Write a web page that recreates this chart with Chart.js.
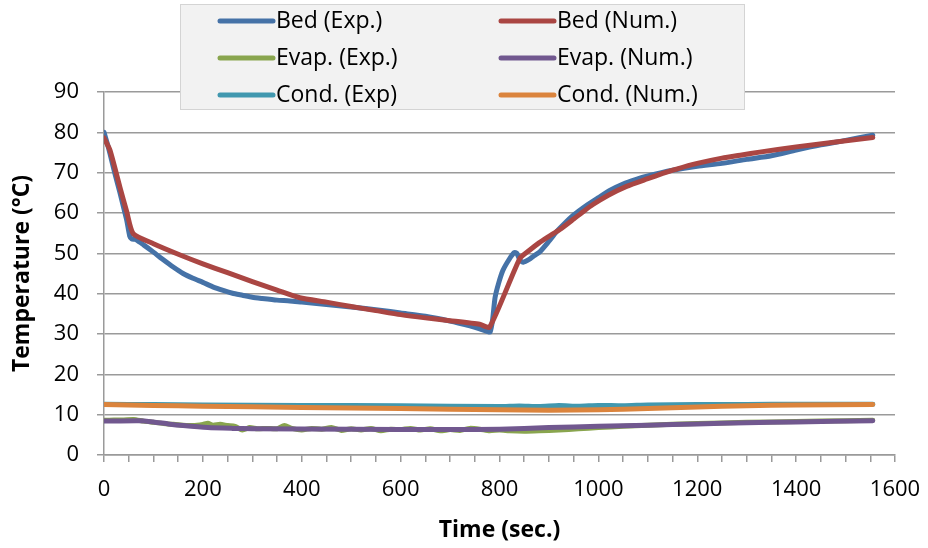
<!DOCTYPE html>
<html>
<head>
<meta charset="utf-8">
<title>Bed / Evap / Cond temperatures</title>
<script src="https://cdn.jsdelivr.net/npm/chart.js@4/dist/chart.umd.min.js"></script>
<style>
  html, body { margin: 0; padding: 0; background: #fff; }
  #wrap { width: 928px; height: 548px; }
</style>
</head>
<body>
<div id="wrap"><canvas id="tempChart" width="928" height="548"></canvas></div>
<script>
// series labels and colours (legend order)
var seriesNames = ['Bed (Exp.)', 'Bed (Num.)', 'Evap. (Exp.)', 'Evap. (Num.)', 'Cond. (Exp)', 'Cond. (Num.)'];
var seriesColors = ['#4572A7', '#AA4643', '#89A54E', '#71588F', '#4198AF', '#DB843D'];

// axis ticks
var xTickLabels = [0, 200, 400, 600, 800, 1000, 1200, 1400, 1600];
var yTickLabels = [0, 10, 20, 30, 40, 50, 60, 70, 80, 90];

// Bed (Exp.)
var bedExpTime = [0, 6, 12, 22, 32, 40, 46, 52, 56, 64, 80, 100, 120, 140, 160, 180, 200, 220, 241, 260, 280, 300, 320, 350, 376,
                  400, 450, 500, 558, 600, 650, 700, 740, 760, 776, 781,
                  786, 791, 798, 807, 820, 830, 835, 842, 848, 860, 870, 881, 900, 915, 930, 950, 975, 1000, 1023, 1050, 1075,
                  1100, 1150, 1200, 1250, 1300, 1350, 1400, 1450, 1500, 1555];
var bedExpTemp = [80, 77.5, 74.8, 69.8, 65.2, 61.2, 58.2, 54.3, 53.6, 53.4, 52.1, 50.3, 48.4, 46.6, 45, 43.8, 42.8, 41.7, 40.8, 40.1, 39.6, 39.1, 38.8, 38.4, 38.2,
                  37.9, 37.3, 36.7, 35.9, 35.2, 34.4, 33.2, 32, 31.3, 30.6, 30.5,
                  33.5, 39, 42.5, 45.8, 48.6, 50.2, 50, 48.2, 47.8, 48.5, 49.4, 50.3, 53, 55.3, 57.2, 59.5, 61.8, 63.8, 65.6, 67.2, 68.3,
                  69.2, 70.6, 71.6, 72.3, 73.3, 74.2, 75.6, 76.9, 78, 79.3];

// Bed (Num.)
var bedNumTime = [0, 12, 32, 46, 59, 100, 154, 200, 250, 300, 350, 396, 450, 500, 550, 600, 650, 700, 760, 780,
                  841, 860, 880, 900, 922, 950, 970, 989, 1020, 1057, 1100, 1130, 1158, 1200, 1250, 1290, 1326, 1400, 1480, 1555];
var bedNumTemp = [78.6, 75.6, 66.5, 60.3, 54.9, 52.4, 49.6, 47.4, 45.2, 43, 40.9, 39, 37.9, 36.8, 35.8, 34.8, 34, 33.3, 32.4, 31.7,
                  48.7, 50.7, 52.6, 54.2, 55.9, 58.5, 60.4, 62.1, 64.4, 66.6, 68.5, 69.8, 70.9, 72.3, 73.6, 74.4, 75.1, 76.4, 77.6, 78.7];

// Evap. (Exp.)
var evapExpTime = [0, 20, 40, 60, 80, 100, 120, 140, 160, 180, 200, 210, 220, 235, 250, 265, 280, 295, 310, 330, 350, 365, 380, 400,
                   420, 440, 460, 480, 500, 520, 540, 560, 580, 600, 620, 640, 660, 680, 700, 720, 740, 760, 780, 800, 820, 850,
                   880, 920, 960, 1000, 1050, 1100, 1200, 1300, 1400, 1500, 1555];
var evapExpTemp = [8.6, 8.7, 8.7, 8.8, 8.4, 8.1, 7.8, 7.6, 7.4, 7.3, 7.6, 7.9, 7.4, 7.6, 7.3, 7.1, 6.2, 6.8, 6.5, 6.6, 6.5, 7.3, 6.6, 6.2,
                   6.6, 6.4, 6.8, 6.1, 6.5, 6.2, 6.6, 6.0, 6.4, 6.3, 6.6, 6.2, 6.5, 6.0, 6.3, 6.1, 6.6, 6.4, 6.0, 6.2, 6.0, 5.9,
                   6.0, 6.2, 6.5, 6.8, 7.1, 7.4, 7.8, 8.1, 8.3, 8.5, 8.6];

// Evap. (Num.)
var evapNumTime = [0, 70, 100, 130, 160, 210, 260, 300, 500, 700, 800, 900, 1000, 1100, 1200, 1300, 1400, 1555];
var evapNumTemp = [8.4, 8.5, 8.2, 7.7, 7.3, 6.8, 6.6, 6.5, 6.4, 6.3, 6.4, 6.8, 7.1, 7.4, 7.7, 8.0, 8.2, 8.5];

// Cond. (Exp)
var condExpTime = [0, 100, 200, 400, 600, 800, 840, 880, 920, 960, 1000, 1050, 1100, 1200, 1300, 1400, 1555];
var condExpTemp = [12.6, 12.5, 12.4, 12.3, 12.2, 12.0, 12.15, 12.0, 12.25, 12.1, 12.3, 12.2, 12.4, 12.5, 12.55, 12.6, 12.6];

// Cond. (Num.)
var condNumTime = [0, 100, 200, 400, 600, 800, 900, 1000, 1100, 1200, 1300, 1400, 1555];
var condNumTemp = [12.5, 12.3, 12.1, 11.8, 11.5, 11.2, 11.1, 11.2, 11.5, 11.9, 12.2, 12.4, 12.5];

var seriesTimes = [bedExpTime, bedNumTime, evapExpTime, evapNumTime, condExpTime, condNumTime];
var seriesTemps = [bedExpTemp, bedNumTemp, evapExpTemp, evapNumTemp, condExpTemp, condNumTemp];

function toPoints(times, temps) {
    var pts = [];
    for (var i = 0; i < times.length; i++) {
        pts.push({ x: times[i], y: temps[i] });
    }
    return pts;
}

var datasets = seriesNames.map(function (name, i) {
    return {
        label: name,
        data: toPoints(seriesTimes[i], seriesTemps[i]),
        borderColor: seriesColors[i],
        backgroundColor: seriesColors[i],
        borderWidth: 5,
        pointRadius: 0,
        tension: 0.2,
        borderCapStyle: 'round',
        borderJoinStyle: 'round',
        order: seriesNames.length - i   // later series drawn on top, like Excel
    };
});

var FONT = "'Open Sans', 'Liberation Sans', sans-serif";
var GRID = '#9a9a9a';

// boxed two-column legend sitting over the top of the plot
var boxLegend = {
    id: 'boxLegend',
    afterDraw: function (chart) {
        var ctx = chart.ctx;
        var box = { x: 180, y: 4, w: 565, h: 106 };
        var cols = [220, 501];
        var rows = [21, 58, 95];
        ctx.save();
        ctx.fillStyle = '#f2f2f2';
        ctx.strokeStyle = '#d4d4d4';
        ctx.lineWidth = 1;
        ctx.fillRect(box.x, box.y, box.w, box.h);
        ctx.strokeRect(box.x + 0.5, box.y + 0.5, box.w - 1, box.h - 1);
        ctx.font = '23px ' + FONT;
        ctx.textBaseline = 'middle';
        ctx.textAlign = 'left';
        chart.data.datasets.forEach(function (ds, i) {
            var cx = cols[i % 2];
            var cy = rows[Math.floor(i / 2)];
            ctx.strokeStyle = ds.borderColor;
            ctx.lineWidth = 5;
            ctx.lineCap = 'round';
            ctx.beginPath();
            ctx.moveTo(cx, cy);
            ctx.lineTo(cx + 53, cy);
            ctx.stroke();
            ctx.fillStyle = '#000';
            ctx.fillText(ds.label, cx + 56, cy);
        });
        ctx.restore();
    }
};

var ctx = document.getElementById('tempChart').getContext('2d');
var tempChart = new Chart(ctx, {
    type: 'line',
    data: { datasets: datasets },
    options: {
        responsive: false,
        animation: false,
        devicePixelRatio: 1,
        layout: { padding: { top: 92, right: 33, left: 0, bottom: 0 } },
        plugins: {
            legend: { display: false },
            tooltip: { enabled: false }
        },
        scales: {
            x: {
                type: 'linear',
                min: xTickLabels[0],
                max: xTickLabels[xTickLabels.length - 1],
                afterFit: function (scale) {
                    scale.height = 93;
                    scale.paddingLeft = 0;
                    scale.paddingRight = 0;
                },
                border: { color: GRID, width: 1.5 },
                grid: { drawOnChartArea: false, color: GRID, lineWidth: 1.5, tickLength: 7 },
                ticks: {
                    stepSize: 50,
                    autoSkip: false,
                    maxRotation: 0,
                    padding: 15,
                    color: '#000',
                    font: { family: FONT, size: 22 },
                    callback: function (v) { return xTickLabels.indexOf(v) >= 0 ? String(v) : ''; }
                },
                title: {
                    display: true,
                    text: 'Time (sec.)',
                    color: '#000',
                    font: { family: FONT, size: 23, weight: 'bold' },
                    padding: { top: 0, bottom: 4 }
                }
            },
            y: {
                min: yTickLabels[0],
                max: yTickLabels[yTickLabels.length - 1],
                afterFit: function (scale) {
                    scale.width = 104;
                    scale.paddingTop = 0;
                    scale.paddingBottom = 0;
                },
                border: { color: GRID, width: 1.5 },
                grid: { color: GRID, lineWidth: 1.5, tickLength: 7 },
                ticks: {
                    stepSize: 10,
                    padding: 18,
                    color: '#000',
                    font: { family: FONT, size: 22 },
                    callback: function (v) { return yTickLabels.indexOf(v) >= 0 ? String(v) : ''; }
                },
                title: {
                    display: true,
                    text: 'Temperature (°C)',
                    color: '#000',
                    font: { family: FONT, size: 23, weight: 'bold' },
                    padding: { top: 9, bottom: 0 }
                }
            }
        }
    },
    plugins: [boxLegend]
});
</script>
</body>
</html>
